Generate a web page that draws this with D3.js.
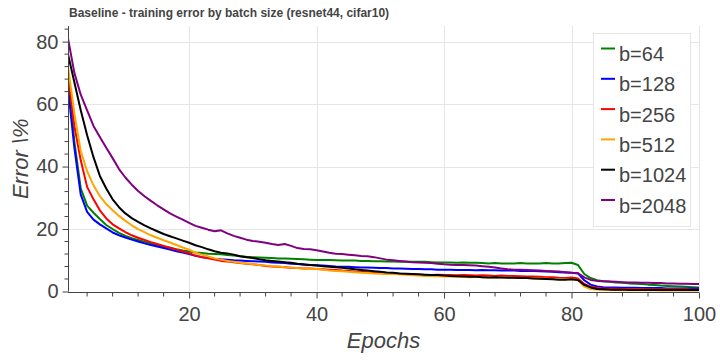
<!DOCTYPE html>
<html>
<head>
<meta charset="utf-8">
<script src="https://cdn.jsdelivr.net/npm/d3@7"></script>
<style>
  html, body { margin: 0; padding: 0; background: #fff; }
  svg { display: block; font-family: "Liberation Sans", Arial, Helvetica, sans-serif; }
</style>
</head>
<body>
<svg id="chart" width="720" height="360"></svg>
<script>
const titleText = "Baseline - training error by batch size (resnet44, cifar10)";
const xLabel = "Epochs";
const yLabel = "Error \\%";
const xTicks = [20, 40, 60, 80, 100];
const yTicks = [0, 20, 40, 60, 80];
const seriesNames = ["b=64", "b=128", "b=256", "b=512", "b=1024", "b=2048"];
const seriesColors = ["green", "blue", "red", "orange", "black", "purple"];

const b64 = [
  69, 48, 33, 27.5, 25.2, 23.2, 21.3, 20.0, 18.8, 17.8,
  17.1, 16.5, 15.9, 15.4, 14.9, 14.4, 14.0, 13.5, 13.1, 12.8,
  12.5, 12.3, 12.1, 12.0, 11.9, 11.7, 11.5, 11.3, 11.1, 11.0,
  10.9, 10.8, 10.7, 10.6, 10.6, 10.5, 10.4, 10.3, 10.2, 10.1,
  10.1, 10.1, 10.0, 9.9, 9.9, 9.9, 9.8, 9.8, 9.7, 9.7,
  9.6, 9.6, 9.5, 9.5, 9.5, 9.5, 9.5, 9.4, 9.3, 9.3,
  9.3, 9.2, 9.3, 9.2, 9.2, 9.1, 9.0, 9.1, 9.0, 9.0,
  9.0, 9.1, 9.0, 9.0, 9.0, 9.1, 9.0, 9.0, 9.1, 9.2,
  8.5, 5.6, 4.3, 3.6, 3.3, 3.1, 2.9, 2.8, 2.6, 2.5,
  2.4, 2.2, 2.1, 1.9, 1.8, 1.7, 1.6, 1.5, 1.4, 1.3
];
const b128 = [
  65, 46, 31, 25.5, 23, 21.5, 20.2, 18.9, 18.0, 17.3,
  16.6, 16.0, 15.4, 14.9, 14.4, 13.9, 13.4, 12.9, 12.5, 12.0,
  11.4, 11.0, 10.8, 10.5, 10.3, 10.2, 10.0, 9.9, 9.8, 9.7,
  9.6, 9.5, 9.3, 9.2, 9.1, 8.9, 8.8, 8.6, 8.5, 8.4,
  8.3, 8.2, 8.0, 7.9, 7.9, 7.8, 7.7, 7.7, 7.6, 7.5,
  7.5, 7.4, 7.4, 7.3, 7.2, 7.2, 7.1, 7.1, 7.0, 7.0,
  7.0, 6.9, 6.9, 6.9, 6.8, 6.9, 6.8, 6.8, 6.7, 6.7,
  6.7, 6.6, 6.6, 6.6, 6.5, 6.4, 6.3, 6.2, 6.1, 6.0,
  5.8, 3.6, 2.2, 1.6, 1.4, 1.3, 1.3, 1.2, 1.2, 1.2,
  1.1, 1.1, 1.1, 1.1, 1.0, 1.0, 1.0, 1.0, 1.0, 1.0
];
const b256 = [
  70, 53, 42, 33.5, 29.5, 26, 23.4, 21.5, 20.2, 19.0,
  18.0, 17.2, 16.5, 15.8, 15.2, 14.6, 14.0, 13.4, 12.8, 12.3,
  11.5, 11.0, 10.6, 10.2, 9.8, 9.6, 9.4, 9.1, 8.9, 8.7,
  8.5, 8.2, 8.0, 7.9, 7.8, 7.6, 7.5, 7.4, 7.4, 7.2,
  7.1, 7.0, 6.9, 6.7, 6.6, 6.4, 6.3, 6.2, 6.0, 5.9,
  5.8, 5.8, 5.7, 5.6, 5.5, 5.4, 5.3, 5.3, 5.4, 5.3,
  5.3, 5.2, 5.3, 5.2, 5.1, 5.2, 5.1, 5.0, 5.1, 5.0,
  5.0, 4.9, 4.8, 4.8, 4.7, 4.6, 4.6, 4.4, 4.3, 4.5,
  4.2, 2.4, 1.5, 1.1, 1.0, 0.9, 0.9, 0.8, 0.8, 0.8,
  0.8, 0.7, 0.7, 0.7, 0.7, 0.7, 0.7, 0.7, 0.6, 0.6
];
const b512 = [
  72, 57, 45, 38.5, 34, 30.5, 28, 26, 24.2, 22.6,
  21.2, 20.0, 19.0, 18.0, 17.2, 16.4, 15.7, 14.9, 14.1, 13.4,
  12.4, 11.8, 11.2, 10.6, 10.2, 9.8, 9.5, 9.2, 9.0, 8.8,
  8.5, 8.3, 8.2, 8.0, 7.8, 7.7, 7.5, 7.4, 7.3, 7.2,
  7.0, 6.7, 6.6, 6.5, 6.3, 6.2, 6.0, 5.9, 5.8, 5.7,
  5.6, 5.6, 5.5, 5.4, 5.2, 5.1, 5.0, 5.0, 4.9, 4.8,
  4.8, 4.7, 4.7, 4.6, 4.7, 4.6, 4.5, 4.5, 4.5, 4.5,
  4.4, 4.3, 4.3, 4.2, 4.2, 4.1, 4.0, 4.0, 3.9, 3.9,
  3.6, 1.6, 0.8, 0.6, 0.5, 0.5, 0.5, 0.4, 0.4, 0.4,
  0.4, 0.4, 0.4, 0.3, 0.3, 0.3, 0.3, 0.3, 0.3, 0.3
];
const b1024 = [
  76, 67, 58, 50, 43, 37, 33, 29.5, 27, 25,
  23.5, 22.3, 21.2, 20.2, 19.3, 18.4, 17.7, 17.0, 16.3, 15.6,
  14.8, 14.2, 13.5, 12.9, 12.4, 12.2, 11.8, 11.3, 11.0, 10.7,
  10.3, 10.0, 9.8, 9.6, 9.4, 9.2, 8.9, 8.7, 8.5, 8.3,
  8.1, 7.9, 7.8, 7.6, 7.4, 7.1, 6.9, 6.7, 6.5, 6.3,
  6.1, 6.0, 5.8, 5.7, 5.6, 5.5, 5.4, 5.3, 5.3, 5.1,
  5.0, 4.9, 4.8, 4.7, 4.7, 4.6, 4.5, 4.6, 4.5, 4.4,
  4.4, 4.3, 4.3, 4.2, 4.1, 4.0, 3.9, 3.8, 3.8, 3.9,
  3.7, 2.1, 1.3, 0.8, 0.7, 0.6, 0.6, 0.6, 0.5, 0.5,
  0.5, 0.5, 0.5, 0.5, 0.5, 0.5, 0.5, 0.5, 0.5, 0.5
];
const b2048 = [
  81, 70, 63, 58, 53, 49.5, 46, 42.7, 39.2, 36.5,
  34.2, 32.2, 30.5, 29.0, 27.6, 26.3, 25.0, 24.0, 23.0, 22.0,
  21.0, 20.4, 19.8, 19.3, 19.6, 18.6, 17.8, 17.2, 16.6, 16.2,
  15.9, 15.6, 15.2, 14.9, 15.2, 14.6, 13.9, 13.6, 13.5, 13.2,
  12.8, 12.4, 12.1, 12.0, 11.8, 11.6, 11.4, 11.3, 11.0, 10.6,
  10.2, 10.0, 9.8, 9.6, 9.4, 9.3, 9.2, 9.1, 8.9, 8.7,
  8.6, 8.5, 8.5, 8.4, 8.3, 8.1, 7.9, 7.7, 7.4, 7.1,
  7.0, 7.0, 6.9, 6.8, 6.7, 6.6, 6.5, 6.4, 6.2, 6.0,
  5.9, 4.5, 3.7, 3.4, 3.3, 3.2, 3.1, 3.0, 2.9, 2.9,
  2.8, 2.8, 2.7, 2.7, 2.6, 2.6, 2.5, 2.5, 2.4, 2.4
];
const seriesValues = [b64, b128, b256, b512, b1024, b2048];

const svg = d3.select("#chart");
const W = 720, H = 360;
const m = { left: 68, right: 21, top: 26, bottom: 68.5 };
const x = d3.scaleLinear().domain([1, 100]).range([m.left, W - m.right]);
const y = d3.scaleLinear().domain([0, 85]).range([H - m.bottom, m.top]);
const textColor = "#444";

// title
svg.append("text").attr("x", 69).attr("y", 17)
  .attr("font-size", 12).attr("font-weight", "bold").attr("fill", textColor)
  .text(titleText);

// grid
const grid = svg.append("g").attr("stroke", "#e6e6e6").attr("stroke-width", 1);
xTicks.forEach(t => grid.append("line")
  .attr("x1", Math.round(x(t)) + 0.5).attr("x2", Math.round(x(t)) + 0.5)
  .attr("y1", m.top).attr("y2", H - m.bottom));
yTicks.forEach(t => grid.append("line")
  .attr("x1", m.left).attr("x2", W - m.right)
  .attr("y1", Math.round(y(t)) + 0.5).attr("y2", Math.round(y(t)) + 0.5));

// lines
const line = d3.line().x((d, i) => x(i + 1)).y(d => y(d));
const clip = svg.append("clipPath").attr("id", "clip").append("rect")
  .attr("x", m.left).attr("y", m.top - 5).attr("width", W - m.right - m.left + 2).attr("height", H - m.bottom - m.top + 6);
const lines = svg.append("g").attr("clip-path", "url(#clip)");
seriesValues.forEach((vals, k) => {
  lines.append("path").datum(vals)
    .attr("d", line).attr("fill", "none")
    .attr("stroke", seriesColors[k]).attr("stroke-width", 2)
    .attr("stroke-linejoin", "round");
});

// axes
const xMinor = d3.range(4, 101, 4).filter(v => v % 20 !== 0);
const yMinor = d3.range(4, 86, 4).filter(v => v % 20 !== 0);
const xAxisG = svg.append("g").attr("transform", `translate(0,${Math.round(y(0)) + 0.5})`);
xAxisG.call(d3.axisBottom(x).tickValues(xTicks).tickSize(6).tickPadding(8).tickFormat(d3.format("d")));
xAxisG.append("g").selectAll("line").data(xMinor).join("line")
  .attr("x1", d => x(d)).attr("x2", d => x(d)).attr("y1", 0).attr("y2", 4).attr("stroke", textColor);
const yAxisG = svg.append("g").attr("transform", `translate(${Math.round(x(1)) + 0.5},0)`);
yAxisG.call(d3.axisLeft(y).tickValues(yTicks).tickSize(6).tickPadding(4).tickFormat(d3.format("d")));
yAxisG.append("g").selectAll("line").data(yMinor).join("line")
  .attr("y1", d => y(d)).attr("y2", d => y(d)).attr("x1", 0).attr("x2", -4).attr("stroke", textColor);

[xAxisG, yAxisG].forEach(g => {
  g.selectAll(".domain").attr("stroke", textColor);
  g.selectAll(".tick line").attr("stroke", textColor);
  g.selectAll(".tick text").attr("fill", textColor).attr("font-size", 20)
    .attr("font-family", "'Liberation Sans', Arial, sans-serif");
});
xAxisG.select(".domain").attr("d", `M${x(1)},0H${x(100)}`);
yAxisG.select(".domain").attr("d", `M0,${y(0)}V${y(85)}`);

// axis labels
svg.append("text").attr("x", (x(1) + x(100)) / 2).attr("y", 348)
  .attr("text-anchor", "middle").attr("font-size", 22).attr("font-style", "italic")
  .attr("fill", textColor).text(xLabel);
svg.append("text").attr("transform", `translate(28,${(y(0) + y(85)) / 2}) rotate(-90)`)
  .attr("text-anchor", "middle").attr("font-size", 22).attr("font-style", "italic")
  .attr("fill", textColor).text(yLabel);

// legend
const leg = svg.append("g");
leg.append("rect").attr("x", 593.5).attr("y", 33.5).attr("width", 97).attr("height", 193)
  .attr("fill", "#fff").attr("stroke", "#e6e6e6");
seriesNames.forEach((name, k) => {
  const yy = 48.5 + k * 30.3;
  leg.append("line").attr("x1", 601).attr("x2", 615).attr("y1", yy).attr("y2", yy)
    .attr("stroke", seriesColors[k]).attr("stroke-width", 2);
  leg.append("text").attr("x", 619).attr("y", yy + 12.5)
    .attr("font-size", 20).attr("fill", textColor).text(name);
});
</script>
</body>
</html>
